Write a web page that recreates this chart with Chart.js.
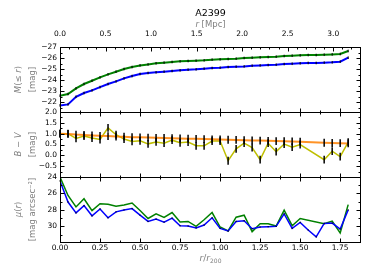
<!DOCTYPE html>
<html lang="en">
<head>
<meta charset="UTF-8">
<title>A2399 radial profiles</title>
<script src="https://cdn.jsdelivr.net/npm/chart.js"></script>
<style>
  body { margin: 0; background: #fff; }
  canvas { display: block; }
</style>
</head>
<body>
<canvas id="profiles" width="374" height="280"></canvas>
<script>
// radius in units of r200
const rr200 = [0.00,0.05,0.10,0.15,0.20,0.25,0.30,0.35,0.40,0.45,0.50,0.55,0.60,0.65,0.70,0.75,0.80,0.85,0.90,0.95,
               1.00,1.05,1.10,1.15,1.20,1.25,1.30,1.35,1.40,1.45,1.50,1.55,1.60,1.65,1.70,1.75,1.80];

// cumulative magnitude M(<= r)
const magGreen = [-22.58,-22.73,-23.24,-23.64,-23.94,-24.24,-24.52,-24.76,-25.00,-25.18,-25.33,-25.42,-25.52,-25.58,-25.64,-25.70,-25.73,-25.76,-25.79,-25.85,
                  -25.88,-25.91,-25.94,-26.00,-26.03,-26.06,-26.09,-26.12,-26.18,-26.21,-26.24,-26.27,-26.27,-26.30,-26.33,-26.36,-26.64];
const magBlue  = [-21.70,-21.79,-22.48,-22.82,-23.06,-23.36,-23.64,-23.88,-24.15,-24.36,-24.55,-24.64,-24.70,-24.76,-24.82,-24.88,-24.94,-24.97,-25.03,-25.09,
                  -25.12,-25.18,-25.21,-25.24,-25.30,-25.33,-25.36,-25.39,-25.45,-25.48,-25.52,-25.55,-25.55,-25.58,-25.61,-25.67,-26.03];
const magErr   = [0.12,0.12,0.12,0.12,0.12,0.12,0.12,0.12,0.12,0.12,0.12,0.12,0.12,0.12,0.12,0.12,0.12,0.12,0.12,0.12,
                  0.12,0.12,0.12,0.12,0.12,0.12,0.12,0.12,0.12,0.12,0.12,0.12,0.12,0.12,0.12,0.12,0.12];

// B - V colour, measured and fitted
const bvColor = [1.00,1.00,0.78,0.89,0.80,0.73,1.27,0.95,0.75,0.64,0.67,0.53,0.62,0.56,0.70,0.58,0.61,0.44,0.44,0.66,
                 0.66,-0.25,0.30,0.56,0.36,-0.20,0.56,0.17,0.52,0.38,0.50,null,null,-0.20,0.19,-0.06,0.61];
const bvFit   = [1.00,0.99,0.96,0.94,0.92,0.90,0.89,0.87,0.86,0.84,0.83,0.82,0.81,0.80,0.79,0.78,0.77,0.76,0.75,0.74,
                 0.73,0.72,0.71,0.70,0.69,0.68,0.67,0.66,0.65,0.64,0.63,null,null,0.58,0.57,0.56,0.55];
const bvErr   = [0.18,0.18,0.18,0.18,0.18,0.18,0.18,0.18,0.18,0.18,0.18,0.18,0.18,0.18,0.18,0.18,0.18,0.18,0.18,0.18,
                 0.18,0.18,0.18,0.18,0.18,0.18,0.18,0.18,0.18,0.18,0.18,null,null,0.18,0.18,0.18,0.18];

// surface brightness mu(r)
const muGreen = [24.00,26.24,27.64,26.64,28.08,27.24,27.32,27.56,27.40,27.16,28.08,29.04,28.48,28.92,28.32,29.48,29.40,30.00,29.20,28.32,
                 30.08,30.56,28.88,28.64,30.64,29.68,29.68,29.96,28.04,29.92,29.04,null,null,29.68,29.36,30.80,27.36];
const muBlue  = [24.48,27.04,28.36,27.48,28.72,27.88,28.96,28.24,28.00,27.84,28.64,29.40,29.12,29.48,29.00,29.92,29.96,30.20,29.84,28.96,
                 30.24,30.56,29.40,29.32,30.28,30.08,30.04,30.00,28.48,30.24,29.52,30.44,31.28,29.64,29.60,30.32,28.00];
const muErr   = [0.08,0.08,0.08,0.08,0.08,0.08,0.08,0.08,0.08,0.08,0.08,0.08,0.08,0.08,0.08,0.08,0.08,0.08,0.08,0.08,
                 0.08,0.08,0.08,0.08,0.08,0.08,0.08,0.08,0.08,0.08,0.08,0.08,0.08,0.08,0.08,0.08,0.08];

// ticks
const xTicks      = [0, 0.25, 0.5, 0.75, 1.0, 1.25, 1.5, 1.75];
const xMinor      = [0.125, 0.375, 0.625, 0.875, 1.125, 1.375, 1.625, 1.875];
const mpcTicks    = [0, 0.5, 1.0, 1.5, 2.0, 2.5, 3.0];
const mpcMinor    = [0.1,0.2,0.3,0.4,0.6,0.7,0.8,0.9,1.1,1.2,1.3,1.4,1.6,1.7,1.8,1.9,2.1,2.2,2.3,2.4,2.6,2.7,2.8,2.9,3.1,3.2,3.3];
const magTicks    = [-27, -26, -25, -24, -23, -22];
const magMinor    = [-26.5, -25.5, -24.5, -23.5, -22.5, -21.5];
const bvTicks     = [2.0, 1.5, 1.0, 0.5, 0.0, -0.5];
const bvMinor     = [1.75, 1.25, 0.75, 0.25, -0.25, -0.75];
const muTicks     = [24, 26, 28, 30];
const muMinor     = [25, 27, 29, 31];

const xMax = 1.88;
const mpcPerR200 = 1.758;

const pts = arr => rr200.map((x, i) => ({x: x, y: arr[i]}));
const fmt = d => v => v.toFixed(d).replace('-', '\u2212');
const setTicks = list => s => { s.ticks = list.map(v => ({value: v})); };

Chart.defaults.font.family = 'DejaVu Sans';
Chart.defaults.font.size = 7.5;
Chart.defaults.color = '#000';

const hidden = {grid: {display: false, drawTicks: false}, border: {display: false}};

const panelTicks = {
  y1: [magTicks, magMinor],
  y2: [bvTicks.concat([-1.0]), bvMinor],
  y3: [muTicks, muMinor]
};

function drawSegs(ctx, segs, cx, cy, size, color, rot) {
  ctx.save();
  ctx.translate(cx, cy);
  ctx.rotate(rot);
  ctx.fillStyle = color;
  ctx.textBaseline = 'middle';
  let total = 0;
  const font = s => (s.it ? 'italic ' : '') + (s.size || size) + 'px "DejaVu Sans"';
  segs.forEach(s => { ctx.font = font(s); s.w = ctx.measureText(s.t).width; total += s.w; });
  let x = -total / 2;
  segs.forEach(s => { ctx.font = font(s); ctx.fillText(s.t, x, s.dy || 0); x += s.w; });
  ctx.restore();
}

const errorBars = {
  id: 'errorBars',
  afterDatasetsDraw(chart) {
    const {ctx} = chart;
    ctx.save();
    ctx.strokeStyle = '#000';
    chart.data.datasets.forEach(ds => {
      if (!ds.err) return;
      const ys = chart.scales[ds.yAxisID], xs = chart.scales.x;
      ctx.lineWidth = ds.errWidth;
      ds.data.forEach((p, j) => {
        if (p.y == null || ds.err[j] == null) return;
        const px = xs.getPixelForValue(p.x);
        ctx.beginPath();
        ctx.moveTo(px, ys.getPixelForValue(p.y - ds.err[j]));
        ctx.lineTo(px, ys.getPixelForValue(p.y + ds.err[j]));
        ctx.stroke();
      });
    });
    ctx.restore();
  }
};

const frames = {
  id: 'frames',
  afterDraw(chart) {
    const {ctx, chartArea: ca, scales} = chart;
    const L = ca.left + 0.5, R = ca.right - 0.5;
    ctx.save();
    ctx.strokeStyle = '#000';
    ctx.lineWidth = 1;
    const seg = (x1, y1, x2, y2) => { ctx.beginPath(); ctx.moveTo(x1, y1); ctx.lineTo(x2, y2); ctx.stroke(); };
    ['y1', 'y2', 'y3'].forEach(id => {
      const s = scales[id];
      const T = Math.round(s.top) + 0.5, B = Math.round(s.bottom) + 0.5;
      ctx.strokeRect(L, T, R - L, B - T);
      const [maj, min] = panelTicks[id];
      [[maj, 4], [min, 2]].forEach(([list, len]) => list.forEach(v => {
        const py = Math.round(s.getPixelForValue(v)) + 0.5;
        seg(L, py, L + len, py);
        seg(R, py, R - len, py);
      }));
      [[xTicks, 4], [xMinor, 2]].forEach(([list, len]) => list.forEach(v => {
        const px = Math.round(scales.x.getPixelForValue(v)) + 0.5;
        if (px > R) return;
        seg(px, B, px, B - len);
        if (id !== 'y1') seg(px, T, px, T + len);
      }));
      if (id === 'y1') {
        [[mpcTicks, 4], [mpcMinor, 2]].forEach(([list, len]) => list.forEach(v => {
          const px = Math.round(scales.x2.getPixelForValue(v)) + 0.5;
          if (px > R) return;
          seg(px, T, px, T + len);
        }));
      }
    });

    const grey = '#808080';
    const cx = (ca.left + ca.right) / 2;
    drawSegs(ctx, [{t: 'A2399'}], cx, 13.5, 9.5, '#000', 0);
    drawSegs(ctx, [{t: 'r', it: true}, {t: ' [Mpc]'}], cx, 24.5, 8.5, grey, 0);
    drawSegs(ctx, [{t: 'r', it: true}, {t: '/'}, {t: 'r', it: true}, {t: '200', size: 6, dy: 2.5}], cx, 259, 9, grey, 0);

    const titles = {
      y1: [[{t: 'M', it: true}, {t: '(\u2264 '}, {t: 'r', it: true}, {t: ')'}], [{t: '[mag]'}]],
      y2: [[{t: 'B', it: true}, {t: ' \u2212 '}, {t: 'V', it: true}], [{t: '[mag]'}]],
      y3: [[{t: '\u03bc', it: true}, {t: '('}, {t: 'r', it: true}, {t: ')'}], [{t: '[mag arcsec\u207b\u00b2]'}]]
    };
    Object.keys(titles).forEach(id => {
      const s = scales[id];
      const cy = (s.top + s.bottom) / 2;
      drawSegs(ctx, titles[id][0], 19, cy, 8.5, grey, -Math.PI / 2);
      drawSegs(ctx, titles[id][1], 33, cy, 8.5, grey, -Math.PI / 2);
    });
    ctx.restore();
  }
};

new Chart(document.getElementById('profiles'), {
  type: 'line',
  data: {
    datasets: [
      {data: pts(magGreen), yAxisID: 'y1', borderColor: '#008000', borderWidth: 2, err: magErr, errWidth: 1},
      {data: pts(magBlue),  yAxisID: 'y1', borderColor: '#0000ff', borderWidth: 2, err: magErr, errWidth: 1},
      {data: pts(bvFit),    yAxisID: 'y2', borderColor: 'rgba(255,128,0,0.85)', borderWidth: 2, err: bvErr, errWidth: 1.5},
      {data: pts(bvColor),  yAxisID: 'y2', borderColor: '#bfbf00', borderWidth: 1.5, err: bvErr, errWidth: 1.5},
      {data: pts(muBlue),   yAxisID: 'y3', borderColor: '#0000ff', borderWidth: 1.5, err: muErr, errWidth: 1},
      {data: pts(muGreen),  yAxisID: 'y3', borderColor: '#008000', borderWidth: 1.5}
    ]
  },
  options: {
    responsive: false,
    animation: false,
    devicePixelRatio: 1,
    spanGaps: true,
    elements: {point: {radius: 0}, line: {tension: 0}},
    layout: {padding: {left: 0, right: 13, top: 0, bottom: 0}},
    plugins: {legend: {display: false}, tooltip: {enabled: false}},
    scales: {
      x: Object.assign({
        type: 'linear', position: 'bottom', min: 0, max: xMax,
        afterBuildTicks: setTicks(xTicks),
        afterFit: s => { s.height = 38; },
        ticks: {padding: 1.5, maxRotation: 0, autoSkip: false, callback: fmt(2)}
      }, hidden),
      x2: Object.assign({
        type: 'linear', position: 'top', min: 0, max: xMax * mpcPerR200,
        afterBuildTicks: setTicks(mpcTicks),
        afterFit: s => { s.height = 47; },
        ticks: {padding: 8, maxRotation: 0, autoSkip: false, callback: fmt(1)}
      }, hidden),
      y3: Object.assign({
        type: 'linear', position: 'left', stack: 'panels', stackWeight: 1,
        min: 24, max: 31.9, reverse: true,
        afterBuildTicks: setTicks(muTicks),
        afterFit: s => { s.width = 60; },
        ticks: {padding: 3, autoSkip: false, callback: fmt(0)}
      }, hidden),
      y2: Object.assign({
        type: 'linear', position: 'left', stack: 'panels', stackWeight: 1,
        min: -1, max: 2,
        afterBuildTicks: setTicks(bvTicks),
        afterFit: s => { s.width = 60; },
        ticks: {padding: 3, autoSkip: false, callback: fmt(1)}
      }, hidden),
      y1: Object.assign({
        type: 'linear', position: 'left', stack: 'panels', stackWeight: 1,
        min: -27, max: -21.1, reverse: true,
        afterBuildTicks: setTicks(magTicks),
        afterFit: s => { s.width = 60; },
        ticks: {padding: 3, autoSkip: false, callback: fmt(0)}
      }, hidden)
    }
  },
  plugins: [errorBars, frames]
});
</script>
</body>
</html>
